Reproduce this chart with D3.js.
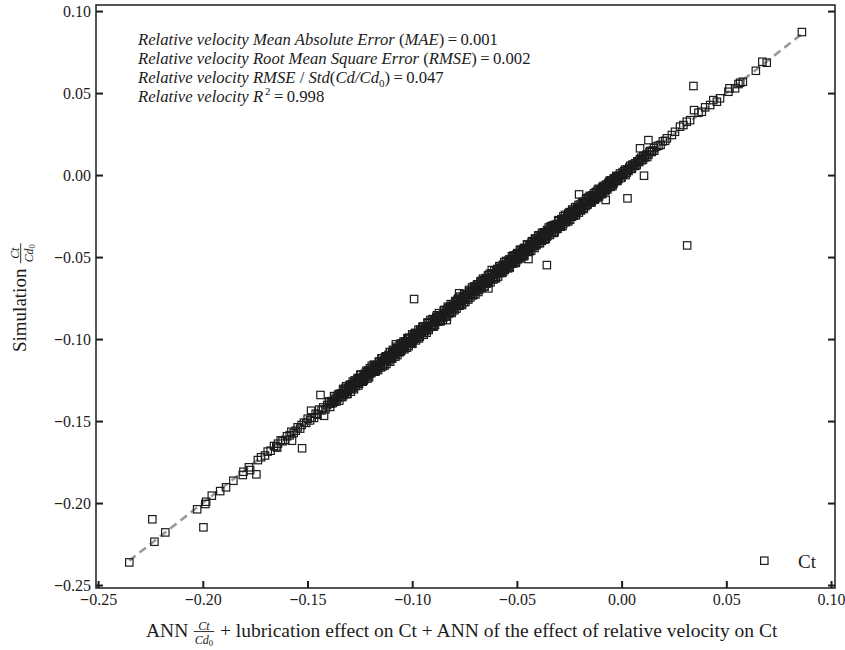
<!DOCTYPE html>
<html>
<head>
<meta charset="utf-8">
<script src="https://cdn.jsdelivr.net/npm/d3@7"></script>
<style>
  body { margin: 0; background: #fff; }
  svg { display: block; }
</style>
</head>
<body>
<script>
// ANN prediction (x) and simulated Ct/Cd0 (y) for each sample.
const annCt = [
  // lower tail
  -0.2351,-0.2241,-0.2231,-0.2179,-0.2027,-0.1997,-0.1988,-0.1984,-0.1957,-0.1917,
  -0.1889,-0.1854,-0.1809,-0.1806,-0.1780,-0.1774,-0.1744,-0.1737,-0.1722,-0.1703,
  -0.1690,-0.1676,-0.1645,-0.1574,-0.1526,-0.1483,-0.1438,-0.1421,
  // main band
  -0.1660,-0.1649,-0.1641,-0.1628,-0.1619,-0.1606,-0.1598,-0.1585,-0.1577,-0.1566,
  -0.1556,-0.1547,-0.1535,-0.1528,-0.1517,-0.1506,-0.1499,-0.1488,-0.1480,-0.1469,
  -0.1461,-0.1452,-0.1444,-0.1433,-0.1425,-0.1414,-0.1406,-0.1397,-0.1388,-0.1380,
  -0.1372,-0.1365,-0.1357,-0.1350,-0.1344,-0.1336,-0.1329,-0.1322,-0.1316,-0.1308,
  -0.1301,-0.1295,-0.1288,-0.1281,-0.1275,-0.1268,-0.1261,-0.1255,-0.1248,-0.1241,
  -0.1235,-0.1229,-0.1222,-0.1216,-0.1209,-0.1203,-0.1196,-0.1190,-0.1183,-0.1177,
  -0.1170,-0.1164,-0.1158,-0.1151,-0.1145,-0.1139,-0.1132,-0.1126,-0.1120,-0.1113,
  -0.1107,-0.1101,-0.1095,-0.1088,-0.1082,-0.1076,-0.1070,-0.1063,-0.1057,-0.1051,
  -0.1045,-0.1039,-0.1033,-0.1026,-0.1020,-0.1014,-0.1008,-0.1002,-0.0995,-0.0989,
  -0.0983,-0.0977,-0.0971,-0.0965,-0.0958,-0.0952,-0.0946,-0.0940,-0.0934,-0.0928,
  -0.0922,-0.0916,-0.0910,-0.0904,-0.0897,-0.0891,-0.0885,-0.0879,-0.0873,-0.0867,
  -0.0861,-0.0855,-0.0849,-0.0843,-0.0837,-0.0831,-0.0825,-0.0819,-0.0813,-0.0807,
  -0.0801,-0.0795,-0.0789,-0.0783,-0.0777,-0.0771,-0.0765,-0.0759,-0.0753,-0.0747,
  -0.0741,-0.0735,-0.0729,-0.0723,-0.0717,-0.0711,-0.0705,-0.0699,-0.0693,-0.0687,
  -0.0681,-0.0675,-0.0669,-0.0663,-0.0657,-0.0651,-0.0645,-0.0639,-0.0633,-0.0627,
  -0.0621,-0.0615,-0.0609,-0.0603,-0.0597,-0.0591,-0.0585,-0.0579,-0.0573,-0.0567,
  -0.0561,-0.0555,-0.0549,-0.0543,-0.0537,-0.0531,-0.0525,-0.0519,-0.0513,-0.0507,
  -0.0501,-0.0495,-0.0489,-0.0483,-0.0477,-0.0471,-0.0465,-0.0459,-0.0453,-0.0447,
  -0.0441,-0.0435,-0.0429,-0.0423,-0.0417,-0.0411,-0.0405,-0.0399,-0.0393,-0.0387,
  -0.0381,-0.0375,-0.0369,-0.0363,-0.0357,-0.0351,-0.0345,-0.0339,-0.0333,-0.0327,
  -0.0321,-0.0315,-0.0309,-0.0303,-0.0297,-0.0291,-0.0285,-0.0279,-0.0273,-0.0267,
  -0.0261,-0.0255,-0.0249,-0.0243,-0.0237,-0.0231,-0.0225,-0.0219,-0.0213,-0.0207,
  -0.0201,-0.0195,-0.0189,-0.0183,-0.0177,-0.0171,-0.0165,-0.0159,-0.0153,-0.0147,
  -0.0141,-0.0135,-0.0129,-0.0123,-0.0117,-0.0111,-0.0105,-0.0099,-0.0093,-0.0087,
  -0.0081,-0.0075,-0.0069,-0.0063,-0.0057,-0.0051,-0.0045,-0.0039,-0.0033,-0.0027,
  -0.0021,-0.0015,-0.0008,-0.0002, 0.0004, 0.0011, 0.0017, 0.0024, 0.0030, 0.0037,
   0.0044, 0.0051, 0.0058, 0.0065, 0.0072, 0.0080, 0.0087, 0.0095, 0.0103, 0.0111,
   0.0119, 0.0128, 0.0137, 0.0146, 0.0156, 0.0166, 0.0176, 0.0186, 0.0197, 0.0208,
  // main band, second group of runs
  -0.1398,-0.1392,-0.1386,-0.1379,-0.1373,-0.1367,-0.1361,-0.1354,-0.1348,-0.1342,
  -0.1336,-0.1330,-0.1324,-0.1318,-0.1312,-0.1305,-0.1299,-0.1293,-0.1287,-0.1281,
  -0.1275,-0.1269,-0.1263,-0.1257,-0.1251,-0.1245,-0.1238,-0.1232,-0.1226,-0.1220,
  -0.1214,-0.1208,-0.1202,-0.1195,-0.1189,-0.1183,-0.1177,-0.1171,-0.1165,-0.1159,
  -0.1153,-0.1147,-0.1141,-0.1135,-0.1129,-0.1123,-0.1117,-0.1111,-0.1105,-0.1098,
  -0.1092,-0.1086,-0.1080,-0.1074,-0.1068,-0.1061,-0.1055,-0.1049,-0.1043,-0.1037,
  -0.1031,-0.1025,-0.1019,-0.1012,-0.1006,-0.1000,-0.0994,-0.0988,-0.0982,-0.0976,
  -0.0970,-0.0964,-0.0957,-0.0951,-0.0945,-0.0939,-0.0933,-0.0927,-0.0921,-0.0915,
  -0.0909,-0.0903,-0.0896,-0.0890,-0.0884,-0.0878,-0.0872,-0.0866,-0.0860,-0.0854,
  -0.0848,-0.0842,-0.0836,-0.0830,-0.0824,-0.0818,-0.0812,-0.0806,-0.0800,-0.0794,
  -0.0788,-0.0782,-0.0776,-0.0770,-0.0764,-0.0758,-0.0752,-0.0746,-0.0740,-0.0734,
  -0.0728,-0.0722,-0.0716,-0.0710,-0.0704,-0.0698,-0.0692,-0.0686,-0.0680,-0.0674,
  -0.0668,-0.0662,-0.0656,-0.0650,-0.0644,-0.0638,-0.0632,-0.0626,-0.0620,-0.0614,
  -0.0608,-0.0602,-0.0596,-0.0590,-0.0584,-0.0578,-0.0572,-0.0566,-0.0560,-0.0554,
  -0.0548,-0.0542,-0.0536,-0.0530,-0.0524,-0.0518,-0.0512,-0.0506,-0.0500,-0.0494,
  -0.0488,-0.0482,-0.0476,-0.0470,-0.0464,-0.0458,-0.0452,-0.0446,-0.0440,-0.0434,
  -0.0428,-0.0422,-0.0416,-0.0410,-0.0404,-0.0398,-0.0392,-0.0386,-0.0380,-0.0374,
  -0.0368,-0.0362,-0.0356,-0.0350,-0.0344,-0.0338,-0.0332,-0.0326,-0.0320,-0.0314,
  -0.0308,-0.0302,-0.0296,-0.0290,-0.0284,-0.0278,-0.0272,-0.0266,-0.0260,-0.0254,
  -0.0248,-0.0242,-0.0236,-0.0230,-0.0224,-0.0218,-0.0212,-0.0206,-0.0200,-0.0194,
  -0.0188,-0.0182,-0.0176,-0.0170,-0.0164,-0.0158,-0.0152,-0.0146,-0.0140,-0.0134,
  -0.0128,-0.0122,-0.0116,-0.0110,-0.0104,-0.0098,-0.0092,-0.0086,-0.0080,-0.0074,
  -0.0068,-0.0062,-0.0056,-0.0050,-0.0044,-0.0038,-0.0032,-0.0026,-0.0020,-0.0014,
  -0.0008,-0.0001, 0.0005, 0.0012, 0.0019, 0.0026, 0.0033, 0.0041, 0.0049, 0.0057,
   0.0066, 0.0075, 0.0084, 0.0093, 0.0102, 0.0112, 0.0122, 0.0133, 0.0144, 0.0155,
  // main band, third group of runs
  -0.1340,-0.1334,-0.1327,-0.1321,-0.1315,-0.1309,-0.1303,-0.1297,-0.1290,-0.1284,
  -0.1278,-0.1272,-0.1266,-0.1260,-0.1254,-0.1248,-0.1242,-0.1236,-0.1230,-0.1224,
  -0.1218,-0.1212,-0.1206,-0.1200,-0.1193,-0.1187,-0.1181,-0.1175,-0.1169,-0.1163,
  -0.1157,-0.1150,-0.1144,-0.1138,-0.1132,-0.1126,-0.1119,-0.1113,-0.1107,-0.1101,
  -0.1095,-0.1089,-0.1083,-0.1077,-0.1071,-0.1065,-0.1059,-0.1053,-0.1047,-0.1041,
  -0.1035,-0.1029,-0.1023,-0.1017,-0.1011,-0.1005,-0.0999,-0.0992,-0.0986,-0.0980,
  -0.0974,-0.0968,-0.0962,-0.0955,-0.0949,-0.0943,-0.0937,-0.0931,-0.0925,-0.0919,
  -0.0913,-0.0907,-0.0900,-0.0894,-0.0888,-0.0882,-0.0876,-0.0870,-0.0864,-0.0858,
  -0.0852,-0.0846,-0.0840,-0.0834,-0.0828,-0.0822,-0.0816,-0.0810,-0.0804,-0.0798,
  -0.0792,-0.0786,-0.0780,-0.0774,-0.0768,-0.0762,-0.0756,-0.0750,-0.0744,-0.0738,
  -0.0732,-0.0726,-0.0720,-0.0714,-0.0708,-0.0702,-0.0696,-0.0690,-0.0684,-0.0678,
  -0.0672,-0.0666,-0.0660,-0.0654,-0.0648,-0.0642,-0.0636,-0.0630,-0.0624,-0.0618,
  -0.0612,-0.0606,-0.0600,-0.0594,-0.0588,-0.0582,-0.0576,-0.0570,-0.0564,-0.0558,
  -0.0552,-0.0546,-0.0540,-0.0534,-0.0528,-0.0522,-0.0516,-0.0510,-0.0504,-0.0498,
  -0.0492,-0.0486,-0.0480,-0.0474,-0.0468,-0.0462,-0.0456,-0.0450,-0.0444,-0.0438,
  -0.0432,-0.0426,-0.0420,-0.0414,-0.0408,-0.0402,-0.0396,-0.0390,-0.0384,-0.0378,
  -0.0372,-0.0366,-0.0360,-0.0354,-0.0348,-0.0342,-0.0336,-0.0330,-0.0324,-0.0318,
  -0.0312,-0.0306,-0.0300,-0.0294,-0.0288,-0.0282,-0.0276,-0.0270,-0.0264,-0.0258,
  -0.0252,-0.0246,-0.0240,-0.0234,-0.0228,-0.0222,-0.0216,-0.0210,-0.0204,-0.0198,
  -0.0192,-0.0186,-0.0180,-0.0174,-0.0168,-0.0162,-0.0156,-0.0150,-0.0144,-0.0138,
  -0.0132,-0.0126,-0.0120,-0.0114,-0.0108,-0.0102,-0.0096,-0.0090,-0.0084,-0.0078,
  -0.0072,-0.0066,-0.0060,-0.0054,-0.0048,-0.0042,-0.0036,-0.0030,-0.0024,-0.0018,
  // upper tail
   0.0216, 0.0240, 0.0255, 0.0279, 0.0295, 0.0311, 0.0327, 0.0346, 0.0367, 0.0383,
   0.0399, 0.0423, 0.0438, 0.0455, 0.0470, 0.0510, 0.0515, 0.0542, 0.0558, 0.0566,
   0.0579, 0.0641, 0.0672, 0.0693, 0.0861,
  // scattered points off the diagonal
  -0.1078,-0.0991,-0.0776,-0.0636,-0.0620,-0.0445,-0.0357,-0.0835,-0.1105,-0.0203,
  -0.0076, 0.0028, 0.0107, 0.0088, 0.0128, 0.0313, 0.0343
];

const simCt = [
  // lower tail
  -0.2362,-0.2099,-0.2236,-0.2179,-0.2038,-0.2148,-0.2006,-0.1992,-0.1955,-0.1927,
  -0.1904,-0.1864,-0.1829,-0.1809,-0.1782,-0.1799,-0.1825,-0.1738,-0.1721,-0.1710,
  -0.1686,-0.1681,-0.1662,-0.1620,-0.1666,-0.1437,-0.1341,-0.1468,
  // main band
  -0.1652,-0.1655,-0.1638,-0.1618,-0.1623,-0.1615,-0.1593,-0.1587,-0.1565,-0.1573,
  -0.1559,-0.1538,-0.1546,-0.1524,-0.1510,-0.1511,-0.1486,-0.1496,-0.1478,-0.1481,
  -0.1455,-0.1461,-0.1430,-0.1435,-0.1417,-0.1428,-0.1403,-0.1386,-0.1394,-0.1379,
  -0.1382,-0.1358,-0.1360,-0.1335,-0.1352,-0.1332,-0.1342,-0.1313,-0.1316,-0.1314,
  -0.1289,-0.1299,-0.1282,-0.1296,-0.1265,-0.1269,-0.1244,-0.1264,-0.1245,-0.1253,
  -0.1230,-0.1245,-0.1211,-0.1219,-0.1191,-0.1210,-0.1194,-0.1176,-0.1194,-0.1169,
  -0.1184,-0.1160,-0.1138,-0.1157,-0.1136,-0.1158,-0.1131,-0.1113,-0.1128,-0.1097,
  -0.1111,-0.1118,-0.1085,-0.1085,-0.1094,-0.1055,-0.1075,-0.1056,-0.1077,-0.1039,
  -0.1045,-0.1048,-0.1015,-0.1040,-0.1014,-0.0992,-0.1011,-0.1020,-0.0986,-0.0996,
  -0.0968,-0.0988,-0.0967,-0.0986,-0.0946,-0.0954,-0.0927,-0.0949,-0.0927,-0.0944,
  -0.0919,-0.0896,-0.0923,-0.0896,-0.0902,-0.0913,-0.0871,-0.0880,-0.0863,-0.0884,
  -0.0855,-0.0863,-0.0826,-0.0858,-0.0836,-0.0820,-0.0844,-0.0803,-0.0817,-0.0798,
  -0.0813,-0.0778,-0.0792,-0.0759,-0.0795,-0.0766,-0.0772,-0.0746,-0.0774,-0.0745,
  -0.0731,-0.0749,-0.0710,-0.0729,-0.0709,-0.0734,-0.0690,-0.0699,-0.0703,-0.0666,
  -0.0686,-0.0663,-0.0689,-0.0659,-0.0641,-0.0662,-0.0638,-0.0656,-0.0611,-0.0629,
  -0.0607,-0.0624,-0.0606,-0.0627,-0.0579,-0.0585,-0.0598,-0.0568,-0.0577,-0.0547,
  -0.0577,-0.0547,-0.0550,-0.0528,-0.0558,-0.0521,-0.0532,-0.0496,-0.0525,-0.0503,
  -0.0484,-0.0514,-0.0483,-0.0486,-0.0465,-0.0485,-0.0444,-0.0467,-0.0452,-0.0469,
  -0.0432,-0.0440,-0.0411,-0.0435,-0.0414,-0.0387,-0.0421,-0.0392,-0.0402,-0.0374,
  -0.0401,-0.0373,-0.0354,-0.0370,-0.0375,-0.0341,-0.0348,-0.0320,-0.0346,-0.0321,
  -0.0310,-0.0330,-0.0305,-0.0281,-0.0306,-0.0293,-0.0269,-0.0298,-0.0265,-0.0273,
  -0.0272,-0.0235,-0.0253,-0.0234,-0.0254,-0.0218,-0.0225,-0.0240,-0.0199,-0.0215,
  -0.0196,-0.0208,-0.0172,-0.0186,-0.0167,-0.0189,-0.0158,-0.0138,-0.0163,-0.0145,
  -0.0155,-0.0123,-0.0135,-0.0105,-0.0137,-0.0107,-0.0096,-0.0111,-0.0078,-0.0089,
  -0.0073,-0.0091,-0.0066,-0.0050,-0.0066,-0.0032,-0.0049,-0.0053,-0.0023,-0.0028,
  -0.0007,-0.0022,-0.0003,-0.0017, 0.0015, 0.0008, 0.0033, 0.0014, 0.0032, 0.0045,
   0.0038, 0.0063, 0.0056, 0.0072, 0.0061, 0.0084, 0.0096, 0.0090, 0.0116, 0.0108,
   0.0125, 0.0124, 0.0147, 0.0148, 0.0149, 0.0174, 0.0179, 0.0184, 0.0206, 0.0209,
  // main band, second group of runs
  -0.1380,-0.1414,-0.1379,-0.1390,-0.1348,-0.1370,-0.1380,-0.1341,-0.1375,-0.1333,
  -0.1351,-0.1304,-0.1330,-0.1298,-0.1336,-0.1304,-0.1283,-0.1321,-0.1276,-0.1289,
  -0.1252,-0.1286,-0.1259,-0.1283,-0.1237,-0.1216,-0.1248,-0.1253,-0.1218,-0.1201,
  -0.1241,-0.1202,-0.1178,-0.1208,-0.1193,-0.1156,-0.1199,-0.1159,-0.1174,-0.1138,
  -0.1165,-0.1119,-0.1166,-0.1130,-0.1112,-0.1152,-0.1108,-0.1115,-0.1081,-0.1114,
  -0.1066,-0.1094,-0.1107,-0.1059,-0.1065,-0.1081,-0.1027,-0.1062,-0.1024,-0.1062,
  -0.1021,-0.1053,-0.0994,-0.1018,-0.1024,-0.0971,-0.1005,-0.0968,-0.1008,-0.0972,
  -0.0943,-0.0983,-0.0959,-0.0928,-0.0974,-0.0927,-0.0940,-0.0899,-0.0944,-0.0899,
  -0.0920,-0.0878,-0.0923,-0.0884,-0.0865,-0.0894,-0.0842,-0.0890,-0.0859,-0.0884,
  -0.0827,-0.0847,-0.0858,-0.0803,-0.0838,-0.0809,-0.0841,-0.0788,-0.0808,-0.0768,
  -0.0814,-0.0768,-0.0785,-0.0741,-0.0784,-0.0755,-0.0728,-0.0774,-0.0729,-0.0749,
  -0.0700,-0.0746,-0.0710,-0.0722,-0.0679,-0.0728,-0.0675,-0.0689,-0.0699,-0.0652,
  -0.0676,-0.0632,-0.0681,-0.0637,-0.0661,-0.0612,-0.0636,-0.0654,-0.0600,-0.0625,
  -0.0584,-0.0620,-0.0588,-0.0619,-0.0557,-0.0584,-0.0557,-0.0589,-0.0531,-0.0567,
  -0.0546,-0.0569,-0.0514,-0.0539,-0.0496,-0.0538,-0.0501,-0.0536,-0.0484,-0.0497,
  -0.0509,-0.0456,-0.0488,-0.0451,-0.0492,-0.0451,-0.0423,-0.0462,-0.0465,-0.0421,
  -0.0403,-0.0429,-0.0445,-0.0393,-0.0419,-0.0370,-0.0414,-0.0381,-0.0353,-0.0393,
  -0.0360,-0.0388,-0.0335,-0.0353,-0.0364,-0.0312,-0.0343,-0.0308,-0.0348,-0.0302,
  -0.0325,-0.0278,-0.0302,-0.0315,-0.0269,-0.0251,-0.0285,-0.0287,-0.0250,-0.0282,
  -0.0226,-0.0254,-0.0210,-0.0248,-0.0220,-0.0245,-0.0195,-0.0182,-0.0209,-0.0216,
  -0.0175,-0.0207,-0.0169,-0.0147,-0.0180,-0.0161,-0.0127,-0.0166,-0.0124,-0.0145,
  -0.0150,-0.0103,-0.0124,-0.0084,-0.0118,-0.0092,-0.0116,-0.0066,-0.0084,-0.0059,
  -0.0087,-0.0053,-0.0034,-0.0063,-0.0068,-0.0024,-0.0038,-0.0005,-0.0036,-0.0009,
   0.0010,-0.0015, 0.0002, 0.0024, 0.0000, 0.0034, 0.0025, 0.0056, 0.0038, 0.0063,
   0.0056, 0.0084, 0.0079, 0.0105, 0.0094, 0.0116, 0.0110, 0.0140, 0.0141, 0.0165,
  // main band, third group of runs
  -0.1339,-0.1354,-0.1313,-0.1329,-0.1288,-0.1334,-0.1297,-0.1278,-0.1304,-0.1260,
  -0.1306,-0.1262,-0.1269,-0.1238,-0.1272,-0.1219,-0.1251,-0.1260,-0.1214,-0.1225,
  -0.1193,-0.1227,-0.1233,-0.1189,-0.1163,-0.1193,-0.1163,-0.1196,-0.1165,-0.1189,
  -0.1144,-0.1173,-0.1117,-0.1148,-0.1161,-0.1105,-0.1117,-0.1130,-0.1079,-0.1108,
  -0.1119,-0.1073,-0.1095,-0.1047,-0.1098,-0.1058,-0.1036,-0.1072,-0.1052,-0.1015,
  -0.1051,-0.1024,-0.0995,-0.1043,-0.0999,-0.1014,-0.1029,-0.0975,-0.0962,-0.0993,
  -0.0967,-0.0996,-0.0943,-0.0959,-0.0923,-0.0964,-0.0927,-0.0961,-0.0903,-0.0927,
  -0.0884,-0.0921,-0.0924,-0.0886,-0.0891,-0.0855,-0.0894,-0.0855,-0.0891,-0.0854,
  -0.0871,-0.0822,-0.0847,-0.0863,-0.0811,-0.0834,-0.0787,-0.0832,-0.0798,-0.0824,
  -0.0774,-0.0796,-0.0753,-0.0797,-0.0765,-0.0792,-0.0742,-0.0725,-0.0760,-0.0730,
  -0.0759,-0.0713,-0.0724,-0.0685,-0.0729,-0.0693,-0.0710,-0.0667,-0.0713,-0.0677,
  -0.0646,-0.0683,-0.0649,-0.0680,-0.0628,-0.0645,-0.0658,-0.0602,-0.0635,-0.0602,
  -0.0637,-0.0600,-0.0629,-0.0573,-0.0596,-0.0555,-0.0591,-0.0597,-0.0552,-0.0578,
  -0.0524,-0.0558,-0.0521,-0.0564,-0.0523,-0.0540,-0.0490,-0.0516,-0.0528,-0.0476,
  -0.0501,-0.0456,-0.0502,-0.0471,-0.0495,-0.0447,-0.0460,-0.0425,-0.0461,-0.0429,
  -0.0461,-0.0408,-0.0431,-0.0388,-0.0428,-0.0401,-0.0367,-0.0415,-0.0372,-0.0385,
  -0.0349,-0.0393,-0.0351,-0.0369,-0.0320,-0.0365,-0.0332,-0.0310,-0.0353,-0.0304,
  -0.0315,-0.0328,-0.0275,-0.0306,-0.0271,-0.0310,-0.0269,-0.0243,-0.0282,-0.0264,
  -0.0232,-0.0272,-0.0229,-0.0236,-0.0247,-0.0196,-0.0229,-0.0204,-0.0229,-0.0181,
  -0.0202,-0.0163,-0.0201,-0.0166,-0.0142,-0.0178,-0.0161,-0.0132,-0.0167,-0.0135,
  -0.0111,-0.0143,-0.0127,-0.0090,-0.0130,-0.0092,-0.0110,-0.0073,-0.0087,-0.0098,
  -0.0060,-0.0075,-0.0041,-0.0072,-0.0042,-0.0056,-0.0020,-0.0034,-0.0013,-0.0030,
  // upper tail
   0.0224, 0.0244, 0.0264, 0.0295, 0.0305, 0.0325, 0.0335, 0.0396, 0.0380, 0.0386,
   0.0413, 0.0427, 0.0457, 0.0447, 0.0468, 0.0508, 0.0529, 0.0529, 0.0555, 0.0563,
   0.0569, 0.0636, 0.0691, 0.0685, 0.0872,
  // scattered points off the diagonal
  -0.1032,-0.0756,-0.0721,-0.0691,-0.0579,-0.0512,-0.0549,-0.0884,-0.1138,-0.0118,
  -0.0152,-0.0142,-0.0004, 0.0163, 0.0213,-0.0429, 0.0543
];

const xTicks = [-0.25, -0.20, -0.15, -0.10, -0.05, 0.00, 0.05, 0.10];
const yTicks = [-0.25, -0.20, -0.15, -0.10, -0.05, 0.00, 0.05, 0.10];

// Goodness-of-fit statistics for the relative-velocity model
const statNames = ["Mean Absolute Error", "Root Mean Square Error", "RMSE / Std", "R"];
const statValues = ["0.001", "0.002", "0.047", "0.998"];
const seriesName = "Ct";

const W = 845, H = 650;
const serif = "'Liberation Serif', 'Times New Roman', Times, serif";
const ink = "#1c1c1c";

const svg = d3.select("body").append("svg")
  .attr("width", W).attr("height", H)
  .style("font-family", serif);

const plot = { left: 96, right: 835, top: 5, bottom: 588 };

const x = d3.scaleLinear().domain([-0.2510, 0.1019]).range([plot.left, plot.right]);
const y = d3.scaleLinear().domain([-0.2518, 0.1037]).range([plot.bottom, plot.top]);

const fmt = d3.format(".2f");

// tick label with a heavy minus sign
function tickLabel(sel) {
  sel.each(function(d) {
    const s = fmt(d);
    const t = d3.select(this).text(null);
    if (s.startsWith("−")) {
      t.append("tspan").attr("font-weight", "bold").text("−");
      t.append("tspan").text(s.slice(1));
    } else {
      t.append("tspan").text(s);
    }
  });
}

function styleAxis(g) {
  g.select(".domain").remove();
  g.selectAll(".tick line").attr("stroke", ink).attr("stroke-width", 2);
  g.selectAll(".tick text").attr("fill", ink)
    .attr("font-family", serif).attr("font-size", 16);
}

// Left axis (ticks pointing inward)
const gLeft = svg.append("g").attr("transform", `translate(${plot.left},0)`)
  .call(d3.axisLeft(y).tickValues(yTicks).tickSizeInner(-7).tickSizeOuter(0).tickPadding(5))
  .call(styleAxis);
gLeft.selectAll(".tick text").attr("dy", "0.32em").call(tickLabel);

// Right axis: ticks only
svg.append("g").attr("transform", `translate(${plot.right},0)`)
  .call(d3.axisRight(y).tickValues(yTicks).tickSizeInner(-7).tickSizeOuter(0).tickFormat(""))
  .call(styleAxis);

// Bottom axis
const gBottom = svg.append("g").attr("transform", `translate(0,${plot.bottom})`)
  .call(d3.axisBottom(x).tickValues(xTicks).tickSizeInner(-7).tickSizeOuter(0).tickPadding(6))
  .call(styleAxis);
gBottom.selectAll(".tick text").call(tickLabel);

// Frame
svg.append("rect")
  .attr("x", plot.left).attr("y", plot.top)
  .attr("width", plot.right - plot.left).attr("height", plot.bottom - plot.top)
  .attr("fill", "none").attr("stroke", ink).attr("stroke-width", 1.5);

// y = x reference line across the data range
const lo = d3.min(annCt), hi = d3.max(annCt);
svg.append("line")
  .attr("x1", x(lo)).attr("y1", y(lo))
  .attr("x2", x(hi)).attr("y2", y(hi))
  .attr("stroke", "#9a9a9a").attr("stroke-width", 2.6)
  .attr("stroke-dasharray", "8,5");

// Square markers
const side = 7.4;
svg.append("g").selectAll("rect")
  .data(d3.range(annCt.length))
  .join("rect")
  .attr("x", i => x(annCt[i]) - side / 2)
  .attr("y", i => y(simCt[i]) - side / 2)
  .attr("width", side).attr("height", side)
  .attr("fill", "none").attr("stroke", ink).attr("stroke-width", 1.2);

// Legend
const legend = svg.append("g");
legend.append("rect")
  .attr("x", 764.3 - side / 2).attr("y", 560.7 - side / 2)
  .attr("width", side).attr("height", side)
  .attr("fill", "none").attr("stroke", ink).attr("stroke-width", 1.2);
legend.append("text").attr("x", 798).attr("y", 568)
  .attr("font-size", 19).attr("fill", ink).text(seriesName);

// Statistics block
const stats = svg.append("g").attr("fill", ink).attr("font-size", 16.7);
const statY = [44.5, 63.5, 82.5, 102];
function seg(t, txt, italic, extra) {
  const s = t.append("tspan").text(txt);
  if (italic) s.attr("font-style", "italic");
  if (extra) extra(s);
  return s;
}
{
  let t = stats.append("text").attr("x", 138).attr("y", statY[0]);
  seg(t, "Relative velocity " + statNames[0] + " ", true);
  seg(t, "(", false); seg(t, "MAE", true); seg(t, ")\u2009=\u2009" + statValues[0], false);

  t = stats.append("text").attr("x", 138).attr("y", statY[1]);
  seg(t, "Relative velocity " + statNames[1] + " ", true);
  seg(t, "(", false); seg(t, "RMSE", true); seg(t, ")\u2009=\u2009" + statValues[1], false);

  t = stats.append("text").attr("x", 138).attr("y", statY[2]);
  seg(t, "Relative velocity RMSE ", true);
  seg(t, "/ ", false);
  seg(t, "Std", true); seg(t, "(", false); seg(t, "Cd/Cd", true);
  seg(t, "0", false, s => s.attr("font-size", 11).attr("dy", 4));
  seg(t, ")\u2009=\u2009" + statValues[2], false, s => s.attr("dy", -4));

  t = stats.append("text").attr("x", 138).attr("y", statY[3]);
  seg(t, "Relative velocity " + statNames[3], true);
  seg(t, "2", false, s => s.attr("font-size", 11).attr("dy", -7).attr("dx", 2));
  seg(t, "\u2009=\u2009" + statValues[3], false, s => s.attr("dy", 7));
}

// Axis title builder: prefix, stacked Ct/Cd0 fraction, suffix
function fractionTitle(g, prefix, suffix, size) {
  const main = g.append("text").attr("x", 0).attr("y", 0).attr("font-size", size).text(prefix);
  let cx = main.node().getComputedTextLength() + size * 0.28;
  const fs = size * 0.62;
  const num = g.append("text").attr("y", -size * 0.38).attr("font-size", fs)
    .attr("font-style", "italic").attr("text-anchor", "middle").text("Ct");
  const den = g.append("text").attr("y", size * 0.38).attr("font-size", fs)
    .attr("text-anchor", "middle");
  den.append("tspan").attr("font-style", "italic").text("Cd");
  den.append("tspan").attr("font-size", fs * 0.72).attr("dy", 2).text("0");
  const fw = Math.max(num.node().getComputedTextLength(), den.node().getComputedTextLength()) + 2;
  num.attr("x", cx + fw / 2);
  den.attr("x", cx + fw / 2);
  g.append("line").attr("x1", cx).attr("x2", cx + fw)
    .attr("y1", -size * 0.28).attr("y2", -size * 0.28)
    .attr("stroke", ink).attr("stroke-width", 0.9);
  cx += fw + size * 0.05;
  if (suffix) {
    g.append("text").attr("x", cx).attr("y", 0).attr("font-size", size)
      .attr("xml:space", "preserve").text(suffix);
  }
  g.attr("fill", ink);
}

const xTitle = svg.append("g").attr("transform", "translate(146,637)");
fractionTitle(xTitle, "ANN", " + lubrication effect on Ct + ANN of the effect of relative velocity on Ct", 19.5);

const yTitle = svg.append("g").attr("transform", "translate(26,352) rotate(-90)");
fractionTitle(yTitle, "Simulation", "", 19);
</script>
</body>
</html>
